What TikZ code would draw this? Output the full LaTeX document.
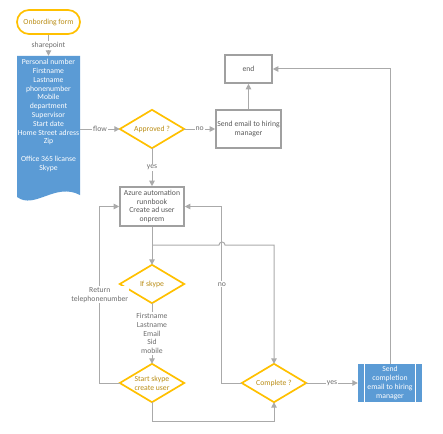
\documentclass[tikz,border=0pt]{standalone}
\usepackage{fontspec}
\setmainfont{Carlito}
\usetikzlibrary{arrows.meta}
\definecolor{gold}{RGB}{255,192,0}
\definecolor{goldtext}{RGB}{185,140,20}
\definecolor{bluefill}{RGB}{91,155,213}
\definecolor{connc}{RGB}{170,170,170}
\definecolor{boxline}{RGB}{160,160,160}
\definecolor{txt}{RGB}{89,89,89}
\definecolor{lblc}{RGB}{110,110,110}
\begin{document}
\begin{tikzpicture}[x=1pt,y=-1pt,
 every node/.style={font=\fontsize{7.7}{8.8}\selectfont},
 conn/.style={draw=connc, line width=1pt},
 arr/.style={conn, -{Triangle[length=5.5pt,width=5.5pt]}},
 procbox/.style={draw=boxline, line width=1.6pt, text=txt, align=center, inner sep=1pt},
 decision/.style={minimum width=64pt, minimum height=38pt, inner sep=0pt, text=goldtext, align=center},
 dline/.style={draw=gold, line width=1.7pt, line join=miter},
 lab/.style={fill=white, text=lblc, inner sep=1pt, align=center},
 startstop/.style={draw=gold, line width=1.7pt, rounded corners=12pt, minimum width=63pt, minimum height=24pt, text=goldtext},
 bluebox/.style={fill=bluefill, text=white, align=center, inner sep=0pt},
]
\useasboundingbox (0,0) rectangle (443,433);

% nodes
\node[startstop] (form) at (48.5,22) {Onbording form};
\node[minimum width=63pt, minimum height=141pt, inner sep=0pt] (doc) at (48.5,126.5) {};
\fill[bluefill] (17,56) -- (80,56) -- (80,195) .. controls (55,182) and (35,210) .. (17,197) -- cycle;
\node[text=white, align=center] (doctext) at (48.5,115.5) {Personal number\\Firstname\\Lastname\\phonenumber\\Mobile\\department\\Supervisor\\Start date\\Home Street adress\\Zip\\[8.8pt]Office 365 licanse\\Skype};

\node[decision] (appr) at (152,129) {Approved ?};
\node[procbox, minimum width=65pt, minimum height=38pt] (mail) at (248.5,129) {Send email to hiring\\manager};
\node[procbox, minimum width=47pt, minimum height=28pt] (end) at (248.5,69) {end};
\node[procbox, minimum width=64pt, minimum height=39pt] (azure) at (152,206.5) {Azure automation\\runnbook\\Create ad user\\onprem};
\node[decision] (skype) at (152,284) {If skype};
\node[decision] (start) at (152,383) {Start skype\\create user};
\node[decision] (compl) at (274,383) {Complete ?};
\node[bluebox, minimum width=64pt, minimum height=38pt] (send) at (390,383) {Send\\completion\\email to hiring\\manager};
\draw[white, line width=0.8pt] ([xshift=7pt]send.north west) -- ([xshift=7pt]send.south west);
\draw[white, line width=0.8pt] ([xshift=-7pt]send.north east) -- ([xshift=-7pt]send.south east);

\foreach \n in {appr,skype,start,compl}
  \draw[dline] (\n.north) -- (\n.east) -- (\n.south) -- (\n.west) -- cycle;

% connectors
\draw[arr] (form.south) -- node[lab]{sharepoint} (doc.north);
\draw[arr] (doc.east |- appr.west) -- node[lab]{flow} (appr.west);
\draw[arr] (appr.east) -- node[lab]{no} (mail.west);
\draw[arr] (mail.north) -- (end.south);
\draw[arr] (appr.south) -- node[lab]{yes} (azure.north);
\draw[arr] (azure.south) -- (skype.north);
\coordinate (j) at (152,245);
\coordinate (hop) at (222,245);
\draw[arr] (j) -- ([xshift=-3pt]hop) arc (180:0:3pt) -- (j -| compl) -- (compl.north);
\draw[arr] (skype.south) -- node[lab]{Firstname\\Lastname\\Email\\Sid\\mobile} (start.north);
\draw[arr] (start.west) -- ++(-20,0) |- node[lab, pos=0.25]{Return\\telephonenumber} (azure.west);
\draw[arr] (compl.west) -- ++(-20,0) |- node[lab, pos=0.28]{no} (azure.east);
\draw[arr] (start.south) -- ++(0,19) -| (compl.south);
\draw[arr] (compl.east) -- node[lab]{yes} (send.west);
\draw[arr] (send.north) |- (end.east);
\end{tikzpicture}
\end{document}
